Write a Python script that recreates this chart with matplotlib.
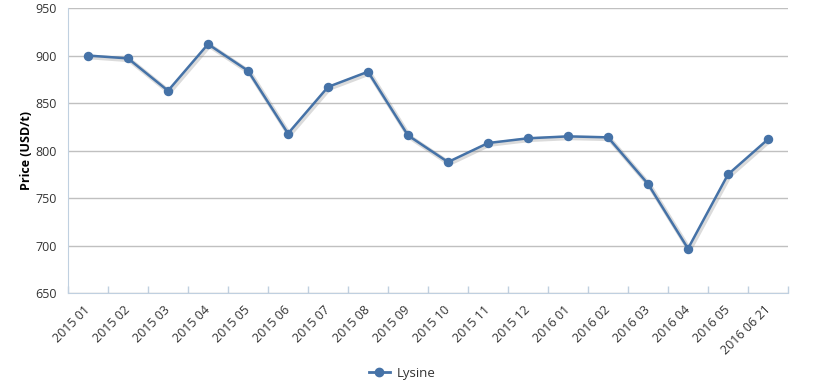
import matplotlib
matplotlib.use('Agg')
import matplotlib.pyplot as plt
import matplotlib.patheffects as pe
import matplotlib.transforms as mtransforms
from matplotlib.lines import Line2D
import numpy as np

plt.rcParams['font.family'] = ['Open Sans', 'DejaVu Sans']

months = ['2015 01', '2015 02', '2015 03', '2015 04', '2015 05', '2015 06',
          '2015 07', '2015 08', '2015 09', '2015 10', '2015 11', '2015 12',
          '2016 01', '2016 02', '2016 03', '2016 04', '2016 05', '2016 06 21']
lysine = [900, 897, 863, 912, 884, 818, 867, 883, 816, 788, 808, 813,
          815, 814, 765, 697, 775, 812]

line_color = '#4572A7'
grid_color = '#C0C0C0'
axis_color = '#C0D0E0'
text_color = '#333333'

fig = plt.figure(figsize=(8.2, 3.91), dpi=100)
ax = fig.add_axes([68 / 820, 97.7 / 391, 720 / 820, 285.3 / 391])

x = np.arange(len(months))
# line with a soft shadow, then markers on top without shadow
ax.plot(x, lysine, color=line_color, lw=1.8, zorder=3, clip_on=False,
        path_effects=[pe.SimpleLineShadow(offset=(1, -1), shadow_color='#888888', alpha=0.3, linewidth=3.5),
                      pe.Normal()])
ax.plot(x, lysine, ls='none', marker='o', ms=5.8, mec=line_color, mfc=line_color,
        zorder=4, clip_on=False)

ax.set_xlim(-0.5, len(months) - 0.5)
ax.set_ylim(650, 950)
ax.set_yticks(np.arange(650, 951, 50))
ax.yaxis.grid(True, color=grid_color, lw=1)
ax.set_axisbelow(True)

# category boundaries as tick marks, labels at centres
ax.set_xticks(np.arange(-0.5, len(months), 1.0))
ax.set_xticklabels([])
ax.tick_params(axis='x', which='major', length=5, width=1, color=axis_color, direction='in')
ax.set_xticks(x, minor=True)
ax.set_xticklabels(months, minor=True, rotation=45, ha='right', va='top',
                   fontsize=9, color=text_color)
ax.tick_params(axis='x', which='minor', length=0, pad=7)
offset = mtransforms.ScaledTranslation(5 / 100, 0, fig.dpi_scale_trans)
for lab in ax.get_xticklabels(minor=True):
    lab.set_transform(lab.get_transform() + offset)
ax.tick_params(axis='y', length=0, labelsize=9, labelcolor=text_color, pad=8)

for s in ['top', 'right']:
    ax.spines[s].set_visible(False)
ax.spines['left'].set_color(axis_color)
ax.spines['bottom'].set_color(axis_color)

ax.set_ylabel('Price (USD/t)', fontsize=9, fontweight='bold', color='black', labelpad=2)

handle = Line2D([], [], color=line_color, lw=2, marker='o', ms=6, mfc=line_color, mec=line_color)
fig.legend([handle], ['Lysine'], loc='center', bbox_to_anchor=(402 / 820, 1 - 373 / 391),
           frameon=False, fontsize=9.5, handlelength=1.6, handletextpad=0.5, labelcolor=text_color)

fig.savefig('out.png', dpi=100)
